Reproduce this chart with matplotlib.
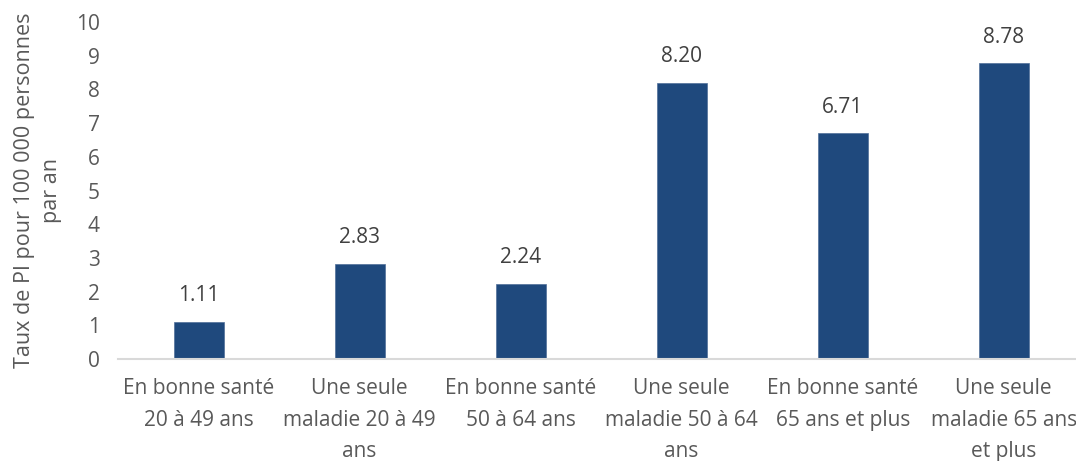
import matplotlib
matplotlib.use("Agg")
import matplotlib.pyplot as plt

categories = [
    "En bonne santé\n20 à 49 ans",
    "Une seule\nmaladie 20 à 49\nans",
    "En bonne santé\n50 à 64 ans",
    "Une seule\nmaladie 50 à 64\nans",
    "En bonne santé\n65 ans et plus",
    "Une seule\nmaladie 65 ans\net plus",
]
values = [1.11, 2.83, 2.24, 8.20, 6.71, 8.78]
yticks = list(range(0, 11))

plt.rcParams['font.family'] = ['Open Sans', 'DejaVu Sans']
text_color = "#595959"
bar_color = "#1F497D"

fig = plt.figure(figsize=(10.76, 4.61), dpi=100)
ax = fig.add_axes([0.1097, 0.2213, 0.898, 0.7307])

x = list(range(len(categories)))
ax.bar(x, values, width=0.31, color=bar_color, edgecolor="#4F6F99", linewidth=0.5, zorder=2)
for xi, v in zip(x, values):
    ax.annotate(f"{v:.2f}", (xi, v), xytext=(0, 11), textcoords="offset points",
                ha="center", va="bottom", fontsize=15, color="#404040")

ax.set_xlim(-0.5, len(categories) - 0.5)
ax.set_ylim(0, 10)
ax.set_yticks(yticks)
ax.set_yticklabels([str(t) for t in yticks], fontsize=15, color=text_color)
ax.set_xticks(x)
ax.set_xticklabels(categories, fontsize=15, color=text_color, linespacing=1.65)
ax.tick_params(axis="y", length=0, pad=13)
ax.tick_params(axis="x", length=0, pad=14)
for s in ["top", "right", "left"]:
    ax.spines[s].set_visible(False)
ax.spines["bottom"].set_color("#D9D9D9")
ax.spines["bottom"].set_linewidth(1.5)
ax.set_ylabel("Taux de PI pour 100 000 personnes\npar an", fontsize=15.5, color=text_color,
              labelpad=10, linespacing=1.4)

fig.savefig("out.png", dpi=100)
